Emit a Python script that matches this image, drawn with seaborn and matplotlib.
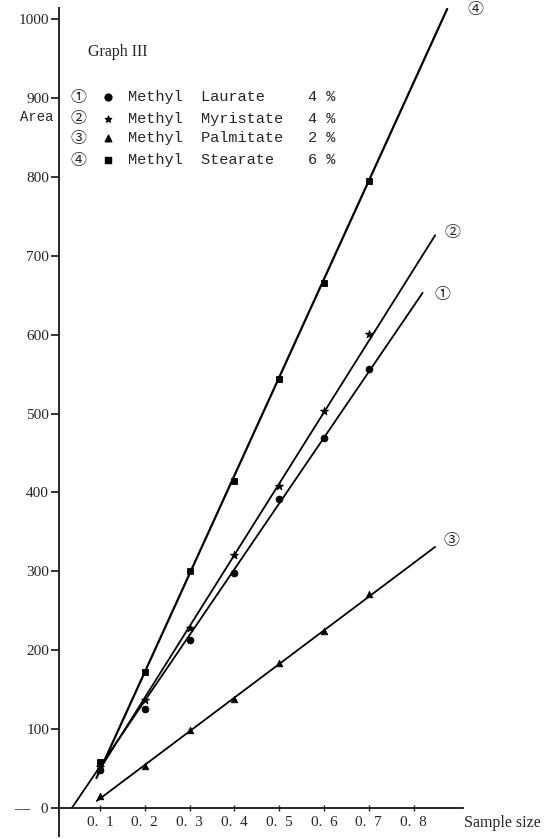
import numpy as np
import pandas as pd
import matplotlib
matplotlib.use("Agg")
import matplotlib.pyplot as plt
import matplotlib.transforms as mtransforms
import seaborn as sns

# ---------------- data ----------------
sample_size = [0.1, 0.2, 0.3, 0.4, 0.5, 0.6, 0.7]
laurate = [48, 125, 213, 298, 392, 469, 556]
myristate = [52, 137, 228, 321, 408, 503, 601]
palmitate = [15, 53, 99, 138, 184, 224, 271]
stearate = [58, 172, 300, 414, 544, 665, 795]

# drawn straight lines (start/end)
laurate_line_x = [0.037, 0.82]
laurate_line_y = [0, 653]
myristate_line_x = [0.095, 0.848]
myristate_line_y = [45, 726]
palmitate_line_x = [0.093, 0.848]
palmitate_line_y = [9, 331]
stearate_line_x = [0.092, 0.875]
stearate_line_y = [38, 1013]

series_names = ["Methyl  Laurate", "Methyl  Myristate", "Methyl  Palmitate", "Methyl  Stearate"]
series_keys = ["1", "2", "3", "4"]
circled = ["\u2460", "\u2461", "\u2462", "\u2463"]
percents = ["4 %", "4 %", "2 %", "6 %"]
y_ticks = [0, 100, 200, 300, 400, 500, 600, 700, 800, 900, 1000]
y_tick_labels = ["\u2014   0", "100", "200", "300", "400", "500", "600", "700", "800", "900", "1000"]
x_ticks = [0.1, 0.2, 0.3, 0.4, 0.5, 0.6, 0.7, 0.8]
x_tick_labels = ["0.  1", "0.  2", "0.  3", "0.  4", "0.  5", "0.  6", "0.  7", "0.  8"]

# ---------------- tables ----------------
values = [laurate, myristate, palmitate, stearate]
pts = pd.DataFrame({
    "x": sample_size * 4,
    "y": sum(values, []),
    "series": sum([[k] * len(sample_size) for k in series_keys], []),
})
line_xs = [laurate_line_x, myristate_line_x, palmitate_line_x, stearate_line_x]
line_ys = [laurate_line_y, myristate_line_y, palmitate_line_y, stearate_line_y]
lines = pd.DataFrame({
    "x": sum(line_xs, []),
    "y": sum(line_ys, []),
    "series": sum([[k] * 2 for k in series_keys], []),
})

# ---------------- style ----------------
sns.set_style("ticks")
serif = ["Liberation Serif", "Noto Sans CJK JP", "DejaVu Sans"]
mono = ["Liberation Mono", "DejaVu Sans Mono"]
circ_font = ["Noto Sans CJK JP", "DejaVu Sans"]
plt.rcParams["font.family"] = serif
plt.rcParams["axes.linewidth"] = 1.4

fig = plt.figure(figsize=(5.48, 8.39), dpi=100)
ax = fig.add_axes([0.1073, 0.004, 0.7456, 0.9864])

markers = {"1": "o", "2": "*", "3": "^", "4": "s"}
sizes = {"1": 24, "2": 36, "3": 22, "4": 22}

for k in series_keys:
    sub = lines[lines.series == k]
    sns.lineplot(data=sub, x="x", y="y", ax=ax, color="black",
                 lw=1.6 if k == "4" else 1.3, estimator=None, sort=False, legend=False)
for k in series_keys:
    sub = pts[pts.series == k]
    sns.scatterplot(data=sub, x="x", y="y", ax=ax, color="black", marker=markers[k],
                    s=sizes[k], edgecolor="black", linewidth=0.6, legend=False, zorder=3)

ax.set_xlim(0.008, 0.92)
ax.set_ylim(-35, 1014)
ax.set_xlabel("")
ax.set_ylabel("")

sns.despine(ax=ax, top=True, right=True)
ax.spines["bottom"].set_position(("data", 0))
ax.spines["bottom"].set_bounds(0.008, 0.91)

ax.set_yticks(y_ticks)
ax.set_yticklabels(y_tick_labels)
ax.set_xticks(x_ticks)
ax.set_xticklabels(x_tick_labels)
ax.tick_params(axis="y", direction="out", length=6, width=1.3, pad=1, labelsize=11)
ax.tick_params(axis="x", direction="inout", length=4, width=1.0, pad=4, labelsize=11)

# axis captions
ax.text(0.912, -19, "Sample size", ha="left", va="center", fontsize=11.5, clip_on=False)
blend = mtransforms.blended_transform_factory(ax.transAxes, ax.transData)
ax.text(-0.012, 876, "Area", transform=blend, ha="right", va="center", fontsize=10, family=mono)

# title
ax.text(0.073, 958, "Graph III", ha="left", va="center", fontsize=11.5)

# hand-made legend
legend_y = [901, 874, 849, 821]
for i, k in enumerate(series_keys):
    yy = legend_y[i]
    ax.text(0.051, yy, circled[i], ha="center", va="center", fontsize=11.5, family=circ_font)
    ax.scatter([0.118], [yy], marker=markers[k], s=sizes[k] * (0.6 if k == "2" else 1.0),
               color="black", clip_on=False, zorder=3)
    ax.text(0.163, yy, series_names[i], ha="left", va="center", fontsize=11, family=mono)
    ax.text(0.565, yy, percents[i], ha="left", va="center", fontsize=11, family=mono)

# circled numbers at line ends
end_labels = {"4": (0.937, 1012), "2": (0.886, 730), "1": (0.864, 651), "3": (0.884, 339)}
for i, k in enumerate(series_keys):
    lx, ly = end_labels[k]
    ax.text(lx, ly, circled[i], ha="center", va="center", fontsize=11.5,
            family=circ_font, clip_on=False)

fig.savefig("out.png", dpi=100, facecolor="white")
